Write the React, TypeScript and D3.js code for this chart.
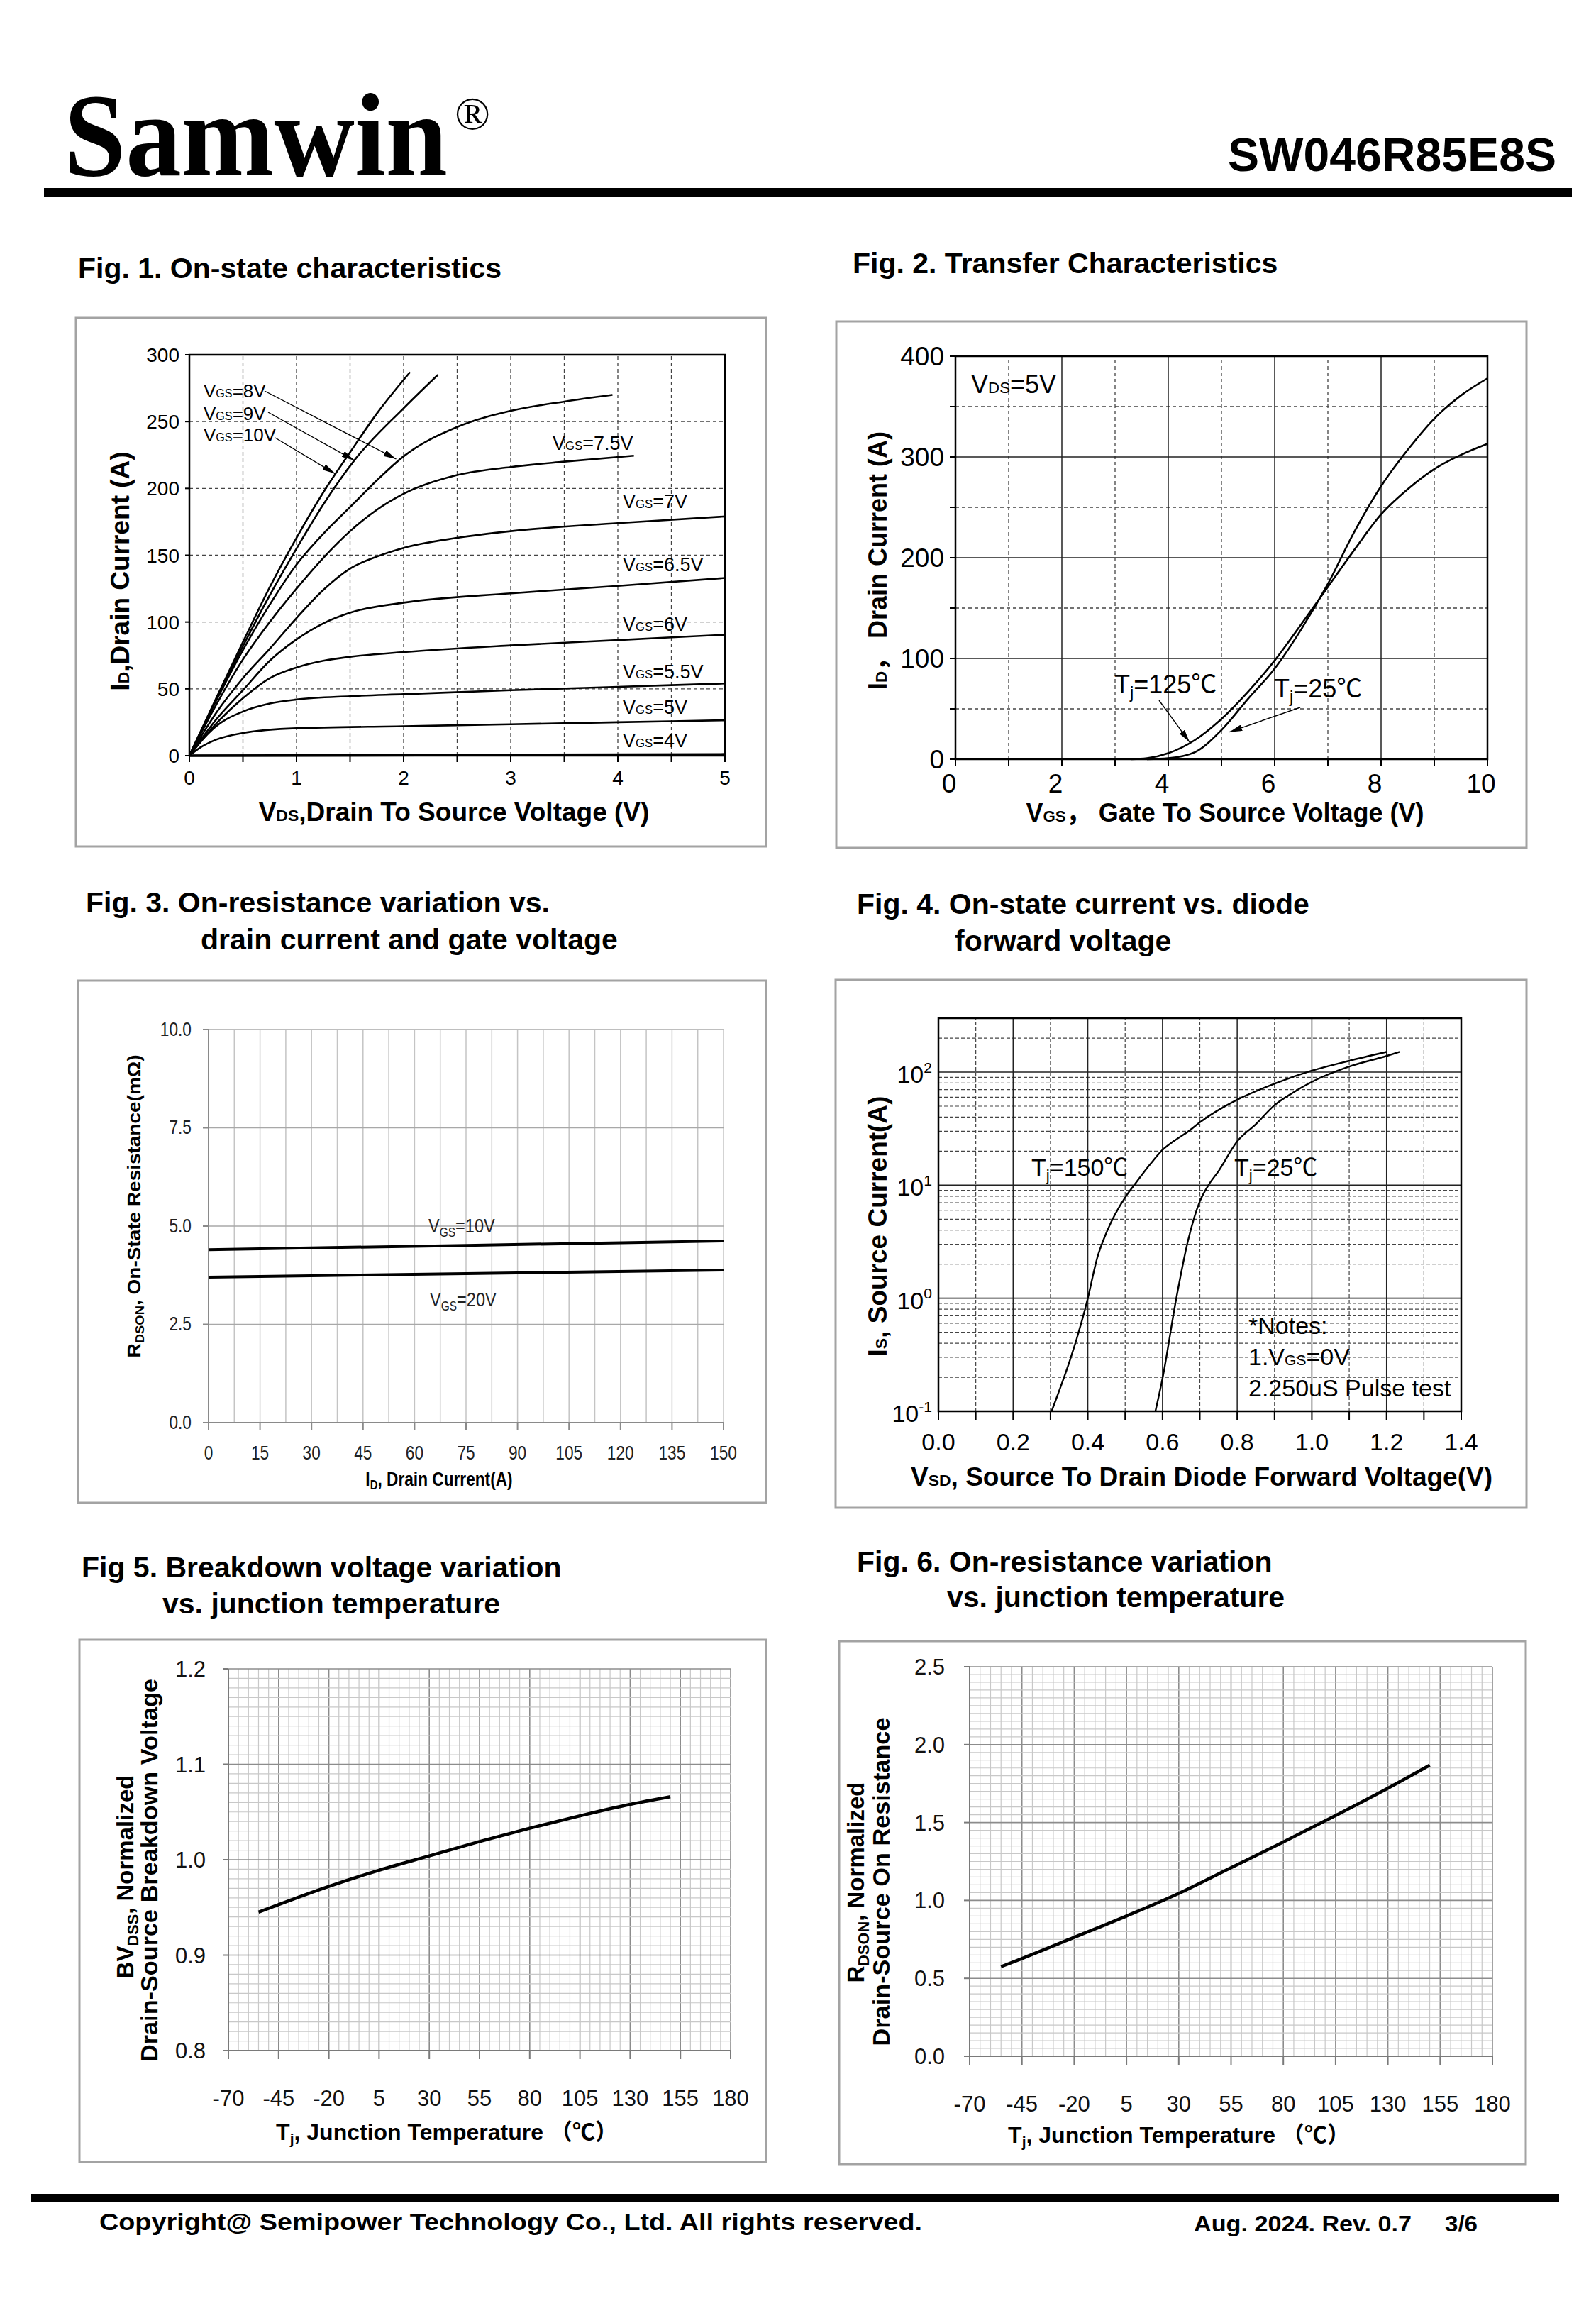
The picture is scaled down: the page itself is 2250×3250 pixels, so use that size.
import React from "react";
import * as d3 from "d3";

const SANS = "'Liberation Sans', Arial, 'Noto Sans CJK SC', sans-serif";
const SERIF = "'Liberation Serif', 'Times New Roman', serif";
const BOX = "#a3a3a3";

// ---------------- Fig 1 data: [VDS (V), ID (A)] ----------------
const f1XTicks = [0, 1, 2, 3, 4, 5];
const f1YTicks = [0, 50, 100, 150, 200, 250, 300];
const f1Vgs10 = [[0, 0], [0.25, 43], [0.5, 85], [0.75, 126], [1, 163], [1.25, 197], [1.5, 227], [1.75, 256], [2.06, 287]];
const f1Vgs9 = [[0, 0], [0.25, 42], [0.5, 82], [0.75, 120], [1, 155], [1.25, 188], [1.55, 222], [2, 260], [2.32, 285]];
const f1Vgs8 = [[0, 0], [0.25, 41], [0.5, 79], [0.75, 113], [1, 143], [1.25, 166], [1.5, 186], [1.75, 206], [2, 224], [2.5, 246], [3, 258], [3.5, 265], [3.95, 270]];
const f1Vgs75 = [[0, 0], [0.25, 38], [0.5, 72], [0.75, 100], [1, 125], [1.25, 148], [1.5, 168], [1.75, 184], [2, 196], [2.5, 210], [3, 216], [3.5, 220], [4.15, 224.5]];
const f1Vgs7 = [[0, 0], [0.25, 32], [0.5, 58], [0.75, 80], [1, 103], [1.25, 124], [1.5, 140], [1.75, 149], [2, 155.5], [2.5, 163], [3, 168], [4, 174], [5, 179]];
const f1Vgs65 = [[0, 0], [0.25, 27], [0.5, 49], [0.75, 71], [1, 87], [1.25, 99], [1.5, 107], [2, 114.5], [3, 121.5], [4, 127], [5, 133]];
const f1Vgs6 = [[0, 0], [0.25, 24], [0.5, 43], [0.75, 58], [1, 66], [1.25, 71], [1.5, 74], [2, 77.5], [3, 82.5], [4, 86.5], [5, 90.5]];
const f1Vgs55 = [[0, 0], [0.1, 10], [0.25, 22], [0.5, 33], [0.75, 39], [1, 42], [1.5, 44.5], [2, 46], [3, 49], [4, 51.5], [5, 54]];
const f1Vgs5 = [[0, 0], [0.1, 6], [0.25, 12], [0.5, 17], [1, 20.5], [2, 22], [3, 23.5], [4, 25], [5, 26.5]];
const f1Vgs4 = [[0, 0], [5, 1]];
const f1LeftLabels = ["8V", "9V", "10V"];
const f1LeftArrowTips = [[1.93, 222], [1.54, 221], [1.36, 211]];
const f1RightLabels = ["7.5V", "7V", "6.5V", "6V", "5.5V", "5V", "4V"];

// ---------------- Fig 2 data: [VGS (V), ID (A)] ----------------
const f2XTicks = [0, 2, 4, 6, 8, 10];
const f2YTicks = [0, 100, 200, 300, 400];
const f2Tj25 = [[3.6, 0], [4, 1], [4.5, 7], [5, 29], [5.5, 60], [6, 90], [6.5, 129], [7, 174], [7.5, 226], [8, 271], [8.5, 307], [9, 338], [9.5, 361], [10, 378]];
const f2Tj125 = [[3.3, 0], [3.6, 1], [4, 6], [4.5, 19], [5, 40], [5.5, 67], [6, 98], [6.5, 134], [7, 171], [7.5, 208], [8, 243], [8.5, 268], [9, 288], [9.5, 302], [10, 313]];
const f2ArrowTips = [[4.4, 17], [5.15, 27]];

// ---------------- Fig 3 data: [ID (A), RDSON (mOhm)] ----------------
const f3XTicks = [0, 15, 30, 45, 60, 75, 90, 105, 120, 135, 150];
const f3YTicks = [0, 2.5, 5, 7.5, 10];
const f3Vgs10 = [[0, 4.4], [75, 4.51], [150, 4.62]];
const f3Vgs20 = [[0, 3.7], [75, 3.79], [150, 3.88]];

// ---------------- Fig 4 data: [VSD (V), IS (A)] ----------------
const f4XTicks = [0, 0.2, 0.4, 0.6, 0.8, 1.0, 1.2, 1.4];
const f4YExps = [-1, 0, 1, 2];
const f4Tj150 = [[0.303, 0.1], [0.4, 1], [0.425, 2.26], [0.452, 3.95], [0.5, 7.8], [0.524, 10], [0.569, 15.6], [0.6, 20.5], [0.63, 24.5], [0.67, 30], [0.7, 36], [0.8, 57], [0.9, 79], [1.0, 103], [1.1, 126], [1.2, 151]];
const f4Tj25 = [[0.581, 0.1], [0.6, 0.195], [0.637, 1], [0.668, 3.2], [0.7, 7.2], [0.723, 10], [0.75, 13.3], [0.8, 24.4], [0.849, 34.4], [0.9, 51], [0.95, 66], [1.0, 82], [1.1, 112], [1.2, 139], [1.235, 151]];

// ---------------- Fig 5 data: [Tj (C), BVDSS normalized] ----------------
const f5XTicks = [-70, -45, -20, 5, 30, 55, 80, 105, 130, 155, 180];
const f5YTicks = [0.8, 0.9, 1.0, 1.1, 1.2];
const f5Temp = [-55, -20, 5, 30, 55, 80, 105, 130, 150];
const f5Bv = [0.945, 0.972, 0.989, 1.004, 1.019, 1.033, 1.046, 1.058, 1.066];

// ---------------- Fig 6 data: [Tj (C), RDSON normalized] ----------------
const f6XTicks = [-70, -45, -20, 5, 30, 55, 80, 105, 130, 155, 180];
const f6YTicks = [0, 0.5, 1.0, 1.5, 2.0, 2.5];
const f6Temp = [-55, -45, -20, 5, 30, 55, 80, 105, 130, 150];
const f6Rds = [0.575, 0.627, 0.763, 0.9, 1.045, 1.21, 1.375, 1.545, 1.72, 1.868];

type Seg = [string, string?];

function RT(props: any) {
  const { x, y, size, segs, anchor = "start", weight = 400, family = SANS, rot = 0, fill = "#000", ls, tl, sx } = props;
  let cur = 0;
  const kids = (segs as Seg[]).map((s, i) => {
    const kind = s[1] || "n";
    let fs = size;
    let off = 0;
    if (kind === "s") fs = size * 0.62;
    else if (kind === "b") { fs = size * 0.66; off = size * 0.2; }
    else if (kind === "p") { fs = size * 0.62; off = -size * 0.42; }
    const dy = off - cur;
    cur = off;
    return (
      <tspan key={i} fontSize={fs} dy={dy !== 0 ? dy : undefined}>{s[0]}</tspan>
    );
  });
  let transform: string | undefined = undefined;
  if (rot) transform = `rotate(${rot} ${x} ${y})`;
  else if (sx) transform = `translate(${x} ${y}) scale(${sx} 1) translate(${-x} ${-y})`;
  return (
    <text
      x={x}
      y={y}
      fontSize={size}
      fontFamily={family}
      fontWeight={weight}
      textAnchor={anchor}
      fill={fill}
      letterSpacing={ls}
      textLength={tl}
      lengthAdjust={tl ? "spacingAndGlyphs" : undefined}
      transform={transform}
    >
      {kids}
    </text>
  );
}

function Title({ x, y, text }: any) {
  return (
    <text x={x} y={y} fontSize={41} fontFamily={SANS} fontWeight={700} fill="#000">{text}</text>
  );
}

function Fig1() {
  const x = d3.scaleLinear().domain([0, 5]).range([267, 1022]);
  const y = d3.scaleLinear().domain([0, 300]).range([1065, 500]);
  const ln = d3.line<number[]>().x((d) => x(d[0])).y((d) => y(d[1])).curve(d3.curveMonotoneX);
  const curves = [f1Vgs4, f1Vgs5, f1Vgs55, f1Vgs6, f1Vgs65, f1Vgs7, f1Vgs75, f1Vgs8, f1Vgs9, f1Vgs10];
  const gx = d3.range(0.5, 5, 0.5);
  const gy = d3.range(50, 300, 50);
  const leftStarts = [[373, 551], [378, 581], [388, 617]];
  const leftLabelY = [560, 592, 622];
  const rightLabelPos = [[779, 634], [878, 716], [878, 805], [878, 889], [878, 956], [878, 1006], [878, 1053]];
  return (
    <g>
      <rect x={107} y={448} width={973} height={745} fill="none" stroke={BOX} strokeWidth={3} />
      {gx.map((v) => (
        <line key={"gx" + v} x1={x(v)} x2={x(v)} y1={y(0)} y2={y(300)} stroke="#444" strokeWidth={1.3} strokeDasharray="5 4" />
      ))}
      {gy.map((v) => (
        <line key={"gy" + v} x1={x(0)} x2={x(5)} y1={y(v)} y2={y(v)} stroke="#444" strokeWidth={1.3} strokeDasharray="5 4" />
      ))}
      {d3.range(0, 5.01, 0.5).map((v) => (
        <line key={"tx" + v} x1={x(v)} x2={x(v)} y1={y(0)} y2={y(0) + 9} stroke="#000" strokeWidth={2} />
      ))}
      {f1YTicks.map((v) => (
        <line key={"ty" + v} x1={x(0) - 6} x2={x(0)} y1={y(v)} y2={y(v)} stroke="#000" strokeWidth={2} />
      ))}
      <rect x={x(0)} y={y(300)} width={x(5) - x(0)} height={y(0) - y(300)} fill="none" stroke="#000" strokeWidth={2.5} />
      {f1XTicks.map((v) => (
        <text key={"lx" + v} x={x(v)} y={1106} fontSize={28} fontFamily={SANS} textAnchor="middle">{v}</text>
      ))}
      {f1YTicks.map((v) => (
        <text key={"ly" + v} x={253} y={y(v) + 10} fontSize={28} fontFamily={SANS} textAnchor="end">{v}</text>
      ))}
      {curves.map((c, i) => (
        <path key={"c" + i} d={ln(c as any) || ""} fill="none" stroke="#000" strokeWidth={i === 0 ? 3.5 : 2.6} />
      ))}
      {f1LeftLabels.map((t, i) => (
        <g key={"ll" + i}>
          <RT x={287} y={leftLabelY[i]} size={26} segs={[["V"], ["GS", "s"], ["=" + t]]} />
          <line x1={leftStarts[i][0]} y1={leftStarts[i][1]} x2={x(f1LeftArrowTips[i][0])} y2={y(f1LeftArrowTips[i][1])} stroke="#000" strokeWidth={1.4} markerEnd="url(#arr)" />
        </g>
      ))}
      {f1RightLabels.map((t, i) => (
        <RT key={"rl" + i} x={rightLabelPos[i][0]} y={rightLabelPos[i][1]} size={27} segs={[["V"], ["GS", "s"], ["=" + t]]} />
      ))}
      <RT x={640} y={1157} size={37} weight={700} anchor="middle" segs={[["V"], ["DS", "s"], [",Drain To Source Voltage (V)"]]} />
      <RT x={182} y={805} size={37} weight={700} anchor="middle" rot={-90} segs={[["I"], ["D", "s"], [",Drain Current (A)"]]} />
    </g>
  );
}

function Fig2() {
  const x = d3.scaleLinear().domain([0, 10]).range([1347, 2097]);
  const y = d3.scaleLinear().domain([0, 400]).range([1070, 502]);
  const ln = d3.line<number[]>().x((d) => x(d[0])).y((d) => y(d[1])).curve(d3.curveMonotoneX);
  const dashedX = [1, 3, 5, 7, 9];
  const solidX = [2, 4, 6, 8];
  const dashedY = [50, 150, 250, 350];
  const solidY = [100, 200, 300];
  const arrowStarts = [[1634, 987], [1833, 997]];
  return (
    <g>
      <rect x={1179} y={453} width={973} height={742} fill="none" stroke={BOX} strokeWidth={3} />
      {dashedX.map((v) => (
        <line key={"dx" + v} x1={x(v)} x2={x(v)} y1={y(0)} y2={y(400)} stroke="#444" strokeWidth={1.3} strokeDasharray="5 4" />
      ))}
      {dashedY.map((v) => (
        <line key={"dy" + v} x1={x(0)} x2={x(10)} y1={y(v)} y2={y(v)} stroke="#444" strokeWidth={1.3} strokeDasharray="5 4" />
      ))}
      {solidX.map((v) => (
        <line key={"sx" + v} x1={x(v)} x2={x(v)} y1={y(0)} y2={y(400)} stroke="#222" strokeWidth={1.5} />
      ))}
      {solidY.map((v) => (
        <line key={"sy" + v} x1={x(0)} x2={x(10)} y1={y(v)} y2={y(v)} stroke="#222" strokeWidth={1.5} />
      ))}
      {d3.range(0, 10.01, 1).map((v) => (
        <line key={"tx" + v} x1={x(v)} x2={x(v)} y1={y(0)} y2={y(0) + 10} stroke="#000" strokeWidth={2} />
      ))}
      {d3.range(0, 400.1, 50).map((v) => (
        <line key={"ty" + v} x1={x(0) - 8} x2={x(0)} y1={y(v)} y2={y(v)} stroke="#000" strokeWidth={2} />
      ))}
      <rect x={x(0)} y={y(400)} width={x(10) - x(0)} height={y(0) - y(400)} fill="none" stroke="#000" strokeWidth={2.5} />
      {f2XTicks.map((v) => (
        <text key={"lx" + v} x={x(v) - 9} y={1117} fontSize={37} fontFamily={SANS} textAnchor="middle">{v}</text>
      ))}
      {f2YTicks.map((v) => (
        <text key={"ly" + v} x={1331} y={y(v) + 13} fontSize={37} fontFamily={SANS} textAnchor="end">{v}</text>
      ))}
      <path d={ln(f2Tj25 as any) || ""} fill="none" stroke="#000" strokeWidth={2.6} />
      <path d={ln(f2Tj125 as any) || ""} fill="none" stroke="#000" strokeWidth={2.6} />
      <RT x={1369} y={554} size={36} segs={[["V"], ["DS", "s"], ["=5V"]]} />
      <RT x={1571} y={977} size={36} segs={[["T"], ["j", "b"], ["=125℃"]]} />
      <RT x={1796} y={983} size={36} segs={[["T"], ["j", "b"], ["=25℃"]]} />
      {f2ArrowTips.map((t, i) => (
        <line key={"ar" + i} x1={arrowStarts[i][0]} y1={arrowStarts[i][1]} x2={x(t[0])} y2={y(t[1])} stroke="#000" strokeWidth={1.4} markerEnd="url(#arr)" />
      ))}
      <RT x={1727} y={1158} size={36} weight={700} anchor="middle" segs={[["V"], ["GS", "s"], ["，  Gate To Source Voltage (V)"]]} />
      <RT x={1250} y={790} size={36} weight={700} anchor="middle" rot={-90} segs={[["I"], ["D", "s"], ["，  Drain Current (A)"]]} />
    </g>
  );
}

function Fig3() {
  const x = d3.scaleLinear().domain([0, 150]).range([294, 1020]);
  const y = d3.scaleLinear().domain([0, 10]).range([2005, 1451]);
  const ln = d3.line<number[]>().x((d) => x(d[0])).y((d) => y(d[1]));
  const fmt = d3.format(".1f");
  return (
    <g>
      <rect x={110} y={1382} width={970} height={736} fill="none" stroke={BOX} strokeWidth={3} />
      {d3.range(7.5, 150.1, 7.5).map((v) => (
        <line key={"gx" + v} x1={x(v)} x2={x(v)} y1={y(0)} y2={y(10)} stroke="#c4c4c4" strokeWidth={1.5} />
      ))}
      {f3YTicks.slice(1).map((v) => (
        <line key={"gy" + v} x1={x(0)} x2={x(150)} y1={y(v)} y2={y(v)} stroke="#a8a8a8" strokeWidth={1.6} />
      ))}
      <line x1={x(0)} x2={x(0)} y1={y(0)} y2={y(10)} stroke="#8a8a8a" strokeWidth={2} />
      <line x1={x(0)} x2={x(150)} y1={y(0)} y2={y(0)} stroke="#8a8a8a" strokeWidth={2} />
      {f3XTicks.map((v) => (
        <line key={"tx" + v} x1={x(v)} x2={x(v)} y1={y(0)} y2={y(0) + 10} stroke="#8a8a8a" strokeWidth={2} />
      ))}
      {f3YTicks.map((v) => (
        <line key={"ty" + v} x1={x(0) - 8} x2={x(0)} y1={y(v)} y2={y(v)} stroke="#8a8a8a" strokeWidth={2} />
      ))}
      {f3XTicks.map((v) => (
        <RT key={"lx" + v} x={x(v)} y={2057} size={27} anchor="middle" fill="#222" sx={0.84} segs={[[String(v)]]} />
      ))}
      {f3YTicks.map((v) => (
        <RT key={"ly" + v} x={270} y={y(v) + 9} size={27} anchor="end" fill="#222" sx={0.84} segs={[[fmt(v)]]} />
      ))}
      <path d={ln(f3Vgs10 as any) || ""} fill="none" stroke="#000" strokeWidth={4} />
      <path d={ln(f3Vgs20 as any) || ""} fill="none" stroke="#000" strokeWidth={4} />
      <RT x={604} y={1737} size={28} fill="#222" sx={0.84} segs={[["V"], ["GS", "b"], ["=10V"]]} />
      <RT x={606} y={1841} size={28} fill="#222" sx={0.84} segs={[["V"], ["GS", "b"], ["=20V"]]} />
      <RT x={619} y={2094} size={27} weight={700} anchor="middle" sx={0.84} segs={[["I"], ["D", "b"], [", Drain Current(A)"]]} />
      <RT x={198} y={1700} size={25} weight={700} anchor="middle" rot={-90} tl={427} segs={[["R"], ["DSON", "b"], [", On-State Resistance(mΩ)"]]} />
    </g>
  );
}

function Fig4() {
  const x = d3.scaleLinear().domain([0, 1.4]).range([1323, 2060]);
  const y = d3.scaleLog().domain([0.1, 300]).range([1989, 1435]);
  const ln = d3.line<number[]>().x((d) => x(d[0])).y((d) => y(d[1])).curve(d3.curveMonotoneX);
  const fmt = d3.format(".1f");
  const minorY: number[] = [];
  f4YExps.forEach((e) => {
    for (let k = 2; k <= 9; k++) {
      const v = k * Math.pow(10, e);
      if (v < 300) minorY.push(v);
    }
  });
  const xv = d3.range(1, 14).map((i) => i / 10);
  return (
    <g>
      <rect x={1178} y={1381} width={974} height={744} fill="none" stroke={BOX} strokeWidth={3} />
      {minorY.map((v) => (
        <line key={"my" + v} x1={x(0)} x2={x(1.4)} y1={y(v)} y2={y(v)} stroke="#444" strokeWidth={1.2} strokeDasharray="5 3" />
      ))}
      {xv.map((v, i) => (
        i % 2 === 0 ? (
          <line key={"vx" + i} x1={x(v)} x2={x(v)} y1={y(0.1)} y2={y(300)} stroke="#444" strokeWidth={1.2} strokeDasharray="5 3" />
        ) : (
          <line key={"vx" + i} x1={x(v)} x2={x(v)} y1={y(0.1)} y2={y(300)} stroke="#222" strokeWidth={1.5} />
        )
      ))}
      {f4YExps.slice(1).map((e) => (
        <line key={"dy" + e} x1={x(0)} x2={x(1.4)} y1={y(Math.pow(10, e))} y2={y(Math.pow(10, e))} stroke="#222" strokeWidth={1.6} />
      ))}
      {d3.range(0, 15).map((i) => (
        <line key={"tx" + i} x1={x(i / 10)} x2={x(i / 10)} y1={y(0.1)} y2={y(0.1) + 12} stroke="#000" strokeWidth={2} />
      ))}
      <rect x={x(0)} y={y(300)} width={x(1.4) - x(0)} height={y(0.1) - y(300)} fill="none" stroke="#000" strokeWidth={2.5} />
      {f4XTicks.map((v) => (
        <text key={"lx" + v} x={x(v)} y={2044} fontSize={34} fontFamily={SANS} textAnchor="middle">{fmt(v)}</text>
      ))}
      {f4YExps.map((e) => (
        <RT key={"ly" + e} x={1314} y={y(Math.pow(10, e)) + 15} size={34} anchor="end" segs={[["10"], [String(e), "p"]]} />
      ))}
      <path d={ln(f4Tj150 as any) || ""} fill="none" stroke="#000" strokeWidth={2.4} />
      <path d={ln(f4Tj25 as any) || ""} fill="none" stroke="#000" strokeWidth={2.4} />
      <RT x={1454} y={1657} size={34} segs={[["T"], ["j", "b"], ["=150℃"]]} />
      <RT x={1740} y={1657} size={34} segs={[["T"], ["j", "b"], ["=25℃"]]} />
      <RT x={1760} y={1880} size={34} segs={[["*Notes:"]]} />
      <RT x={1760} y={1924} size={34} segs={[["1.V"], ["GS", "s"], ["=0V"]]} />
      <RT x={1760} y={1968} size={34} segs={[["2.250uS Pulse test"]]} />
      <RT x={1694} y={2094} size={37} weight={700} anchor="middle" segs={[["V"], ["SD", "s"], [", Source To Drain Diode Forward Voltage(V)"]]} />
      <RT x={1250} y={1728} size={37} weight={700} anchor="middle" rot={-90} segs={[["I"], ["S", "s"], [", Source Current(A)"]]} />
    </g>
  );
}

function TempChart(props: any) {
  const { x0, x1, y0, y1, ydom, yMinorStep, yTicks, xTicks, temps, vals, yfmt, tickRight, xTickBase } = props;
  const x = d3.scaleLinear().domain([-70, 180]).range([x0, x1]);
  const y = d3.scaleLinear().domain(ydom).range([y1, y0]);
  const ln = d3.line<number>().x((d, i) => x(temps[i])).y((d) => y(d)).curve(d3.curveMonotoneX);
  const nMinorY = Math.round((ydom[1] - ydom[0]) / yMinorStep);
  const minorY = d3.range(1, nMinorY + 1).map((i) => ydom[0] + i * yMinorStep);
  const minorX = d3.range(-65, 180.1, 5);
  return (
    <g>
      {minorX.map((v) => (
        <line key={"mx" + v} x1={x(v)} x2={x(v)} y1={y(ydom[0])} y2={y(ydom[1])} stroke={(v + 70) % 25 === 0 ? "#8c8c8c" : "#c8c8c8"} strokeWidth={(v + 70) % 25 === 0 ? 1.6 : 1.2} />
      ))}
      {minorY.map((v, i) => (
        <line key={"my" + i} x1={x(-70)} x2={x(180)} y1={y(v)} y2={y(v)} stroke={(i + 1) % 10 === 0 ? "#8c8c8c" : "#c8c8c8"} strokeWidth={(i + 1) % 10 === 0 ? 1.6 : 1.2} />
      ))}
      <line x1={x(-70)} x2={x(-70)} y1={y(ydom[0])} y2={y(ydom[1])} stroke="#7a7a7a" strokeWidth={2} />
      <line x1={x(-70)} x2={x(180)} y1={y(ydom[0])} y2={y(ydom[0])} stroke="#7a7a7a" strokeWidth={2} />
      {xTicks.map((v: number) => (
        <line key={"tx" + v} x1={x(v)} x2={x(v)} y1={y(ydom[0])} y2={y(ydom[0]) + 12} stroke="#7a7a7a" strokeWidth={2} />
      ))}
      {yTicks.map((v: number) => (
        <line key={"ty" + v} x1={x(-70) - 8} x2={x(-70)} y1={y(v)} y2={y(v)} stroke="#7a7a7a" strokeWidth={2} />
      ))}
      {xTicks.map((v: number) => (
        <text key={"lx" + v} x={x(v)} y={xTickBase} fontSize={31} fontFamily={SANS} textAnchor="middle" fill="#111">{v}</text>
      ))}
      {yTicks.map((v: number) => (
        <text key={"ly" + v} x={tickRight} y={y(v) + 11} fontSize={31} fontFamily={SANS} textAnchor="end" fill="#111">{yfmt(v)}</text>
      ))}
      <path d={ln(vals) || ""} fill="none" stroke="#000" strokeWidth={4.5} />
    </g>
  );
}

function Fig5() {
  return (
    <g>
      <rect x={112} y={2311} width={968} height={736} fill="none" stroke={BOX} strokeWidth={3} />
      <TempChart x0={322} x1={1030} y0={2352} y1={2890} ydom={[0.8, 1.2]} yMinorStep={0.01} yTicks={f5YTicks} xTicks={f5XTicks} temps={f5Temp} vals={f5Bv} yfmt={d3.format(".1f")} tickRight={290} xTickBase={2968} />
      <RT x={630} y={3016} size={32} weight={700} anchor="middle" segs={[["T"], ["j", "b"], [", Junction Temperature （℃）"]]} />
      <RT x={188} y={2645} size={33} weight={700} anchor="middle" rot={-90} segs={[["BV"], ["DSS", "b"], [", Normalized"]]} />
      <RT x={222} y={2636} size={33} weight={700} anchor="middle" rot={-90} tl={540} segs={[["Drain-Source Breakdown Voltage"]]} />
    </g>
  );
}

function Fig6() {
  return (
    <g>
      <rect x={1183} y={2313} width={968} height={737} fill="none" stroke={BOX} strokeWidth={3} />
      <TempChart x0={1367} x1={2104} y0={2349} y1={2898} ydom={[0, 2.5]} yMinorStep={0.05} yTicks={f6YTicks} xTicks={f6XTicks} temps={f6Temp} vals={f6Rds} yfmt={d3.format(".1f")} tickRight={1332} xTickBase={2976} />
      <RT x={1662} y={3020} size={32} weight={700} anchor="middle" segs={[["T"], ["j", "b"], [", Junction Temperature （℃）"]]} />
      <RT x={1218} y={2653} size={33} weight={700} anchor="middle" rot={-90} segs={[["R"], ["DSON", "b"], [", Normalized"]]} />
      <RT x={1254} y={2652} size={33} weight={700} anchor="middle" rot={-90} tl={463} segs={[["Drain-Source On Resistance"]]} />
    </g>
  );
}

export default function App() {
  return (
    <div style={{ position: "absolute", left: 0, top: 0, width: 2250, height: 3250, background: "#fff", overflow: "hidden" }}>
      <style>{"html,body{margin:0;padding:0;overflow:hidden;background:#fff}"}</style>
      <svg width={2250} height={3250} viewBox="0 0 2250 3250" xmlns="http://www.w3.org/2000/svg" style={{ display: "block" }}>
        <defs>
          <marker id="arr" viewBox="0 0 18 9" refX={18} refY={4.5} markerWidth={18} markerHeight={9} markerUnits="userSpaceOnUse" orient="auto">
            <path d="M0,0 L18,4.5 L0,9 z" fill="#000" />
          </marker>
        </defs>
        <rect x={0} y={0} width={2250} height={3250} fill="#fff" />
        {/* Header */}
        <g transform="translate(90 247) scale(1 1.07)">
          <text x={0} y={0} fontSize={157} fontFamily={SERIF} fontWeight={700}>Samwin</text>
        </g>
        <text x={641} y={182} fontSize={66} fontFamily={SERIF}>®</text>
        <text x={2194} y={241} fontSize={67} fontFamily={SANS} fontWeight={700} textAnchor="end" textLength={463} lengthAdjust="spacingAndGlyphs">SW046R85E8S</text>
        <rect x={62} y={265} width={2154} height={13} fill="#000" />

        <Title x={110} y={392} text="Fig. 1. On-state characteristics" />
        <Title x={1202} y={385} text="Fig. 2. Transfer Characteristics" />
        <Title x={121} y={1286} text="Fig. 3. On-resistance variation vs." />
        <Title x={283} y={1338} text="drain current and gate voltage" />
        <Title x={1208} y={1288} text="Fig. 4. On-state current vs. diode" />
        <Title x={1346} y={1340} text="forward voltage" />
        <Title x={115} y={2223} text="Fig 5. Breakdown voltage variation" />
        <Title x={229} y={2274} text="vs. junction temperature" />
        <Title x={1208} y={2215} text="Fig. 6. On-resistance variation" />
        <Title x={1335} y={2265} text="vs. junction temperature" />

        <Fig1 />
        <Fig2 />
        <Fig3 />
        <Fig4 />
        <Fig5 />
        <Fig6 />

        {/* Footer */}
        <rect x={44} y={3092} width={2154} height={11} fill="#000" />
        <text x={140} y={3143} fontSize={33} fontFamily={SANS} fontWeight={700} textLength={1160} lengthAdjust="spacingAndGlyphs">Copyright@ Semipower Technology Co., Ltd. All rights reserved.</text>
        <text x={1683} y={3145} fontSize={31} fontFamily={SANS} fontWeight={700} textLength={307} lengthAdjust="spacingAndGlyphs">Aug. 2024. Rev. 0.7</text>
        <text x={2037} y={3145} fontSize={31} fontFamily={SANS} fontWeight={700} textLength={46} lengthAdjust="spacingAndGlyphs">3/6</text>
      </svg>
    </div>
  );
}
